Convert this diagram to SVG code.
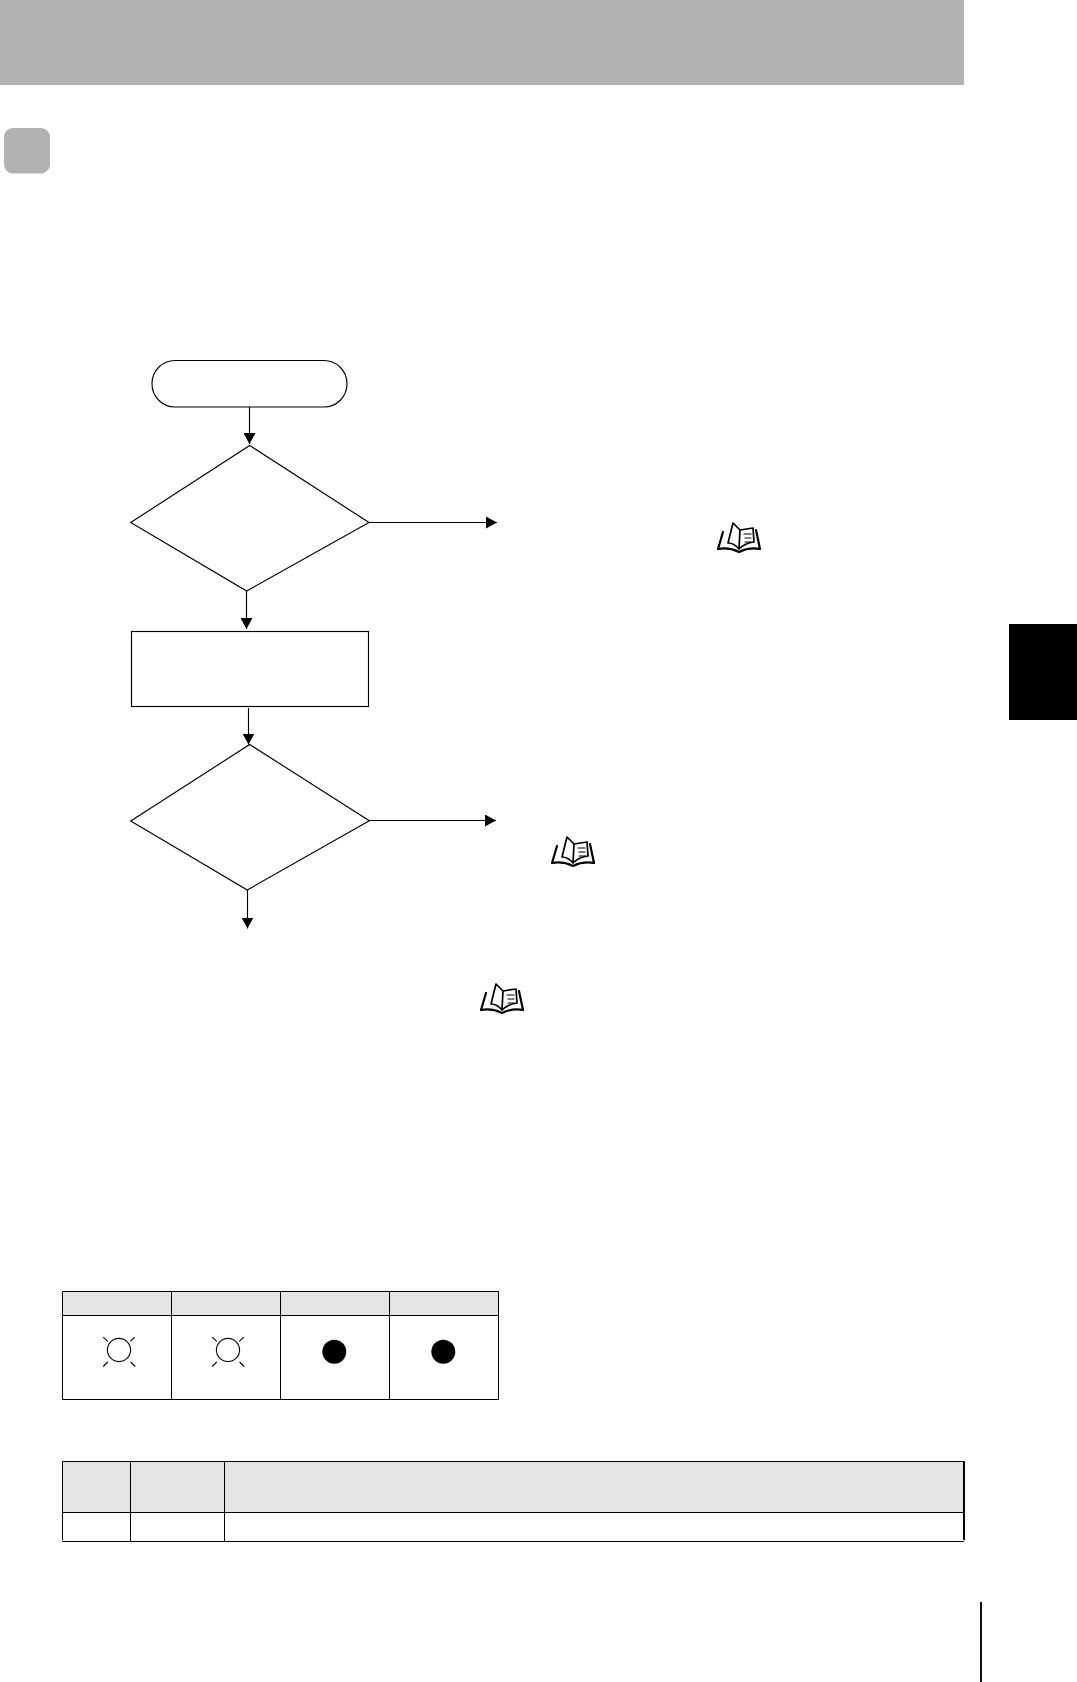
<svg xmlns="http://www.w3.org/2000/svg" width="1077" height="1682" viewBox="0 0 1077 1682">
<style>
.node{fill:#fff;stroke:#000;stroke-width:1.15}
.conn{fill:none;stroke:#000;stroke-width:1.15;marker-end:url(#arrow)}
.hd{fill:#e5e5e5}
.rule{fill:none;stroke:#000;stroke-width:1}
.ray{fill:none;stroke:#000;stroke-width:1.1}
.book{fill:none;stroke:#000;stroke-linejoin:round;stroke-linecap:round}
</style>
<defs>
<marker id="arrow" markerUnits="userSpaceOnUse" markerWidth="12" markerHeight="12" refX="11" refY="6" orient="auto">
<path d="M0,0 L11,6 L0,12 Z" fill="#000"/>
</marker>
<g id="book">
<path class="book" stroke-width="2.2" d="M722,531 L717,548 M717,548 Q728,546 738,551 Q748,546 759,548 M759,548 L755,529"/>
<path class="book" stroke-width="1.7" d="M732,522 L727,542 Q733,542 738,548 L739,529 Q735,525 732,522 M739,529 L752,527 L753,541 Q744,542 738,548"/>
<path class="book" stroke-width="1.2" d="M743,533 H750 M744,537 H750 M744,541 H750"/>
</g>
<g id="bulb">
<circle cx="0" cy="0" r="11.6" fill="#fff" stroke="#000" stroke-width="1.1"/>
<path class="ray" d="M-15.8,-12.8 L-11.2,-8.6 M15.8,-12.8 L11.2,-8.6 M-15.8,16.5 L-11.2,12 M16.2,16.5 L11.6,12"/>
</g>
</defs>
<rect width="1077" height="1682" fill="#fff"/>
<g id="page-furniture">
<rect x="0" y="0" width="964" height="85" fill="#b2b2b2"/>
<rect x="4" y="128" width="46" height="45.500" rx="9" fill="#b2b2b2"/>
<rect x="1009" y="624" width="68" height="96" fill="#000"/>
<rect x="980" y="1602" width="2" height="80" fill="#111"/>
</g>
<g id="connectors">
<line class="conn" x1="249.500" y1="407" x2="249.500" y2="444"/>
<line class="conn" x1="369" y1="522.500" x2="497" y2="522.500"/>
<line class="conn" x1="246.500" y1="591" x2="246.500" y2="629"/>
<line class="conn" x1="248.500" y1="708" x2="248.500" y2="744.500"/>
<line class="conn" x1="369" y1="820.500" x2="496" y2="820.500"/>
<line class="conn" x1="247.500" y1="890" x2="247.500" y2="928.500"/>
</g>
<g id="start"><rect class="node" x="152" y="360.500" width="195" height="46.500" rx="23" ry="23"/></g>
<g id="decision-1"><polygon class="node" points="249.700,445.500 369,522.500 246.700,591 130.700,522.500"/></g>
<g id="process"><rect class="node" x="131.500" y="631.500" width="237" height="75"/></g>
<g id="decision-2"><polygon class="node" points="249.700,744.500 369.300,820.700 247.300,890 130.700,821"/></g>
<g id="ref-1"><use href="#book" x="1" y="1"/></g>
<g id="ref-2"><use href="#book" x="-165" y="315"/></g>
<g id="ref-3"><use href="#book" x="-236" y="462"/></g>
<g id="indicator-table">
<rect class="hd" x="62.500" y="1291.500" width="436" height="23.500"/>
<path class="rule" d="M62.500,1399 V1291.500 H498.500 V1399 M62,1399.500 H499 M62.500,1315.500 H498.500 M171.500,1291.500 V1399 M280.500,1291.500 V1399 M389.500,1291.500 V1399"/>
<use href="#bulb" x="119" y="1350"/>
<use href="#bulb" x="228" y="1350"/>
<circle cx="334.300" cy="1351.700" r="12" fill="#000"/>
<circle cx="443.300" cy="1351.700" r="12" fill="#000"/>
</g>
<g id="status-table">
<rect class="hd" x="62.500" y="1461.500" width="901" height="51"/>
<path class="rule" d="M62.500,1540 V1461.500 H964 M62,1541.500 H964 M62.500,1512.500 H964 M130.500,1461.500 V1541 M224.500,1461.500 V1541"/>
<rect x="963" y="1461" width="2" height="79" fill="#000"/>
</g>
</svg>
